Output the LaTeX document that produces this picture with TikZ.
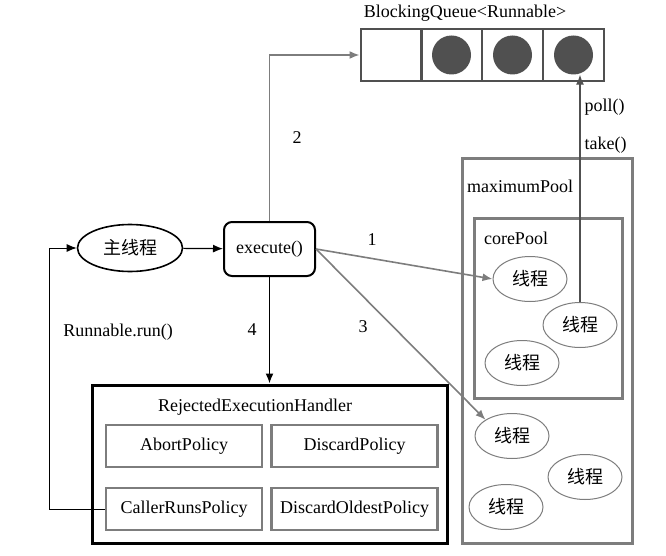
\documentclass[tikz,border=0pt]{standalone}
\usepackage{fontspec}
\setmainfont{Liberation Serif}
\newfontfamily\cjk{Noto Sans CJK SC}
\usetikzlibrary{arrows.meta,shapes.geometric}
\definecolor{poolgray}{RGB}{125,125,125}
\definecolor{balldark}{RGB}{80,80,80}
\begin{document}
\begin{tikzpicture}[x=1pt,y=-1pt,
    every node/.style={font=\rmfamily\fontsize{18}{20}\selectfont},
    thread/.style={draw=poolgray,line width=1pt,ellipse,minimum width=74pt,minimum height=45pt,inner sep=0pt,font=\cjk\fontsize{18}{20}\selectfont},
    policy/.style={draw=poolgray,line width=2.5pt,minimum height=42pt,inner sep=0pt},
    cell/.style={draw=balldark,line width=2pt,minimum width=61pt,minimum height=52pt,inner sep=0pt},
    ball/.style={circle,fill=balldark,minimum size=39pt,inner sep=0pt},
    grayarrow/.style={draw=poolgray,line width=1.6pt,-{Latex[length=10pt,width=8pt]}},
    blackarrow/.style={draw=black,line width=1.2pt,-{Latex[length=10pt,width=8pt]}}]
  \useasboundingbox (0,0) rectangle (666,556);
  % queue
  \node at (465,13) {BlockingQueue<Runnable>};
  \foreach \i/\x in {1/391,2/451.5,3/512.5,4/573.5}
    \node[cell] (cell\i) at (\x,55) {};
  \foreach \i in {2,3,4}
    \node[ball] (ball\i) at (cell\i) {};
  % pools
  \node[draw=poolgray,line width=3pt,minimum width=170pt,minimum height=384pt,inner sep=0pt] (maxpool) at (547,351) {};
  \node at (520,186) {maximumPool};
  \node[draw=poolgray,line width=3pt,minimum width=148pt,minimum height=180pt,inner sep=0pt] (corepool) at (548,308) {};
  \node at (516,238) {corePool};
  \node[thread] (t1) at (530,279) {线程};
  \node[thread] (t2) at (580,325) {线程};
  \node[thread] (t3) at (522,363) {线程};
  \node[thread] (t4) at (512,436) {线程};
  \node[thread] (t5) at (585,477) {线程};
  \node[thread] (t6) at (506,507) {线程};
  % main flow
  \node[draw,line width=1.6pt,ellipse,minimum width=105pt,minimum height=47pt,inner sep=0pt,font=\cjk\fontsize{18}{20}\selectfont] (main) at (130,248) {主线程};
  \node[draw,line width=2pt,rounded corners=8pt,minimum width=91pt,minimum height=54pt,inner sep=0pt] (exec) at (269.5,249) {execute()};
  % handler
  \node[draw,line width=3pt,minimum width=355pt,minimum height=158pt,inner sep=0pt] (handler) at (269.5,464) {};
  \node at (255,407) {RejectedExecutionHandler};
  \node[policy,minimum width=156pt] (abort) at (184,446) {AbortPolicy};
  \node[policy,minimum width=166pt] (discard) at (354.5,446) {DiscardPolicy};
  \node[policy,minimum width=156pt] (caller) at (184,509) {CallerRunsPolicy};
  \node[policy,minimum width=166pt] (oldest) at (354.5,509) {DiscardOldestPolicy};
  % arrows
  \draw[blackarrow] (main) -- (exec);
  \draw[grayarrow] (exec.north) |- (cell1.west);
  \node at (297,138) {2};
  \draw[grayarrow] (exec.east) -- (t1.west);
  \node at (372,240) {1};
  \draw[grayarrow] (exec.east) -- (t4.north west);
  \node at (363,327) {3};
  \draw[blackarrow,line width=1.6pt] (exec.south) -- (handler.north);
  \node at (252,330) {4};
  \draw[draw=balldark,line width=1.2pt,-{Latex[length=10pt,width=8pt]}] (t2.north) -- (t2.north |- ball4.south);
  \node[anchor=west] at (581,107) {poll()};
  \node[anchor=west] at (581,145) {take()};
  \coordinate (loop) at (49,509);
  \draw[blackarrow,line width=1pt] (caller.west) -- (loop) |- (main.west);
  \node at (118,332) {Runnable.run()};
\end{tikzpicture}
\end{document}
